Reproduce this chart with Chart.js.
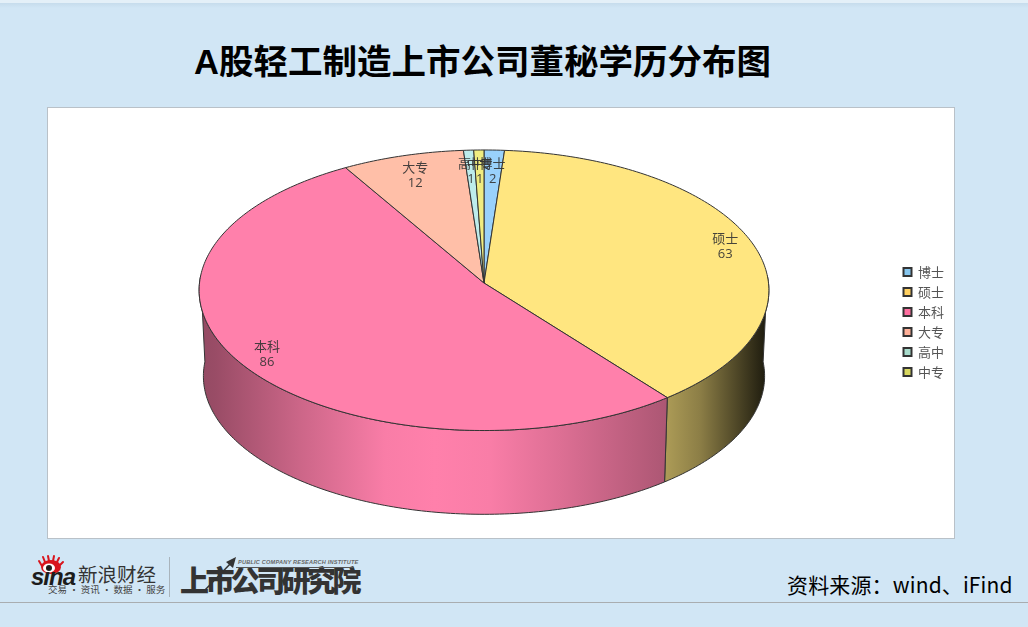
<!DOCTYPE html>
<html>
<head>
<meta charset="utf-8">
<script src="https://cdn.jsdelivr.net/npm/chart.js@4"></script>
<style>
  html, body { margin: 0; padding: 0; }
  body { width: 1028px; height: 627px; position: relative; overflow: hidden; background: #d1e6f5; font-family: "Noto Sans CJK SC", sans-serif; }
  .abs { position: absolute; white-space: nowrap; line-height: 1; }
  #strip { left: 0; top: 3px; width: 1028px; height: 5px; background: linear-gradient(#c6dcec, #d1e6f5); }
  #strip0 { left: 0; top: 0; width: 1028px; height: 3px; background: #e4f0f8; }
  #title { left: 194px; top: 34px; font: bold 34.5px "Liberation Sans", "Noto Sans CJK SC", sans-serif; color: #000; }
  #panel { left: 47px; top: 107px; width: 906px; height: 430px; background: #fff; border: 1px solid #b9c1c8; }
  #chartBox { left: 48px; top: 108px; }
  #source { left: 787px; top: 574px; font-size: 21px; letter-spacing: .15px; color: #000; }
  #rule { left: 0; top: 602px; width: 1028px; height: 1px; background: #a9adb0; }
  #vrule { left: 169px; top: 557px; width: 1px; height: 40px; background: #a9b4bc; }
  #sina { left: 31px; top: 563px; font: italic bold 24px "Liberation Sans", sans-serif; color: #1c1c1c; letter-spacing: -1px; }
  #xl { left: 78px; top: 564px; font-size: 19.5px; color: #333; }
  #xl2 { left: 48px; top: 585px; font-size: 9.5px; color: #444; }
  #ssgs { left: 180px; top: 565px; font-size: 29px; font-weight: 900; color: #333; letter-spacing: -3.6px; }
  #pub { left: 238px; top: 559px; font: italic bold 5.6px "Liberation Sans", sans-serif; color: #666; letter-spacing: .2px; }
  #pubLine { left: 236px; top: 567px; width: 118px; height: 1px; background: #555; }
</style>
</head>
<body>
<div class="abs" id="strip0"></div>
<div class="abs" id="strip"></div>
<div class="abs" id="title">A股轻工制造上市公司董秘学历分布图</div>
<div class="abs" id="panel"></div>
<div class="abs" id="chartBox"><canvas id="myChart" width="910" height="428"></canvas></div>
<svg class="abs" style="left:36px;top:554px" width="30" height="22" viewBox="0 0 30 22">
  <g stroke="#d8141c" stroke-width="2" stroke-linecap="round">
    <path d="M6 12 L3 7M9 8 L7 3M13 7 L12 2M17 7 L18 2M21 8 L23 4M24 11 L27 8"/>
  </g>
  <ellipse cx="15" cy="13" rx="10" ry="7" fill="#d8141c"/>
  <ellipse cx="13" cy="14" rx="6" ry="4.5" fill="#fff"/>
  <circle cx="13" cy="14" r="3" fill="#222"/>
</svg>
<div class="abs" id="sina">sina</div>
<div class="abs" id="xl">新浪财经</div>
<div class="abs" id="xl2">交易 · 资讯 · 数据 · 服务</div>
<div class="abs" id="vrule"></div>
<div class="abs" id="ssgs">上市公司研究院</div>
<svg class="abs" style="left:200px;top:555px" width="40" height="40" viewBox="0 0 40 40">
  <path d="M5 35 L32 7" stroke="#333" stroke-width="1.5"/>
  <path d="M36 2 L26 7 L33 13 Z" fill="#333"/>
</svg>
<div class="abs" id="pub">PUBLIC COMPANY RESEARCH INSTITUTE</div>
<div class="abs" id="pubLine"></div>
<div class="abs" id="source">资料来源：wind、iFind</div>
<div class="abs" id="rule"></div>

<script>
const categories = ["博士", "硕士", "本科", "大专", "高中", "中专"];
const values = [2, 63, 86, 12, 1, 1];
const sliceColors = ["#99d1fb", "#ffe680", "#ff80ab", "#ffbfa8", "#bdecec", "#f0ec80"];
const legendColors = ["#86c6ee", "#ffd060", "#ff6fa0", "#ffb098", "#a8dccc", "#d8d860"];

// look of the tilted disc, in canvas pixels
const cx = 436, apexY = 175;
const rimX = 284.5, rimY = 139.9, persp = 0.0517;
const depth = 86, lowScale = 0.985;
const sideLight = [[199, .58], [215, .6], [300, .8], [385, .98], [435, 1], [490, .98], [560, .87], [665, .68], [700, .55], [769, .1]];

function project(a, r, low) {
  // a is the chart.js arc angle, 3 o'clock = 0
  const X = Math.cos(a) * r, Y = -Math.sin(a) * r;
  const w = 1 + persp * Y;
  const x = rimX * X / w, y = -rimY * Y / w;
  if (!low) return [cx + x, apexY + y];
  return [cx + x * lowScale, apexY + y * lowScale + depth];
}

function shadeColor(hex, s) {
  const n = parseInt(hex.slice(1), 16);
  return `rgb(${(n >> 16) * s | 0},${((n >> 8) & 255) * s | 0},${(n & 255) * s | 0})`;
}

function sideFill(ctx, color) {
  const g = ctx.createLinearGradient(199 - 48, 0, 769 - 48, 0);
  sideLight.forEach(p => g.addColorStop((p[0] - 199) / 570, shadeColor(color, p[1])));
  return g;
}

function rimPoints(a0, a1, low) {
  const n = Math.max(2, Math.ceil((a1 - a0) * 60)), pts = [];
  for (let i = 0; i <= n; i++) pts.push(project(a0 + (a1 - a0) * i / n, 1, low));
  return pts;
}

// arcs keep their angles from the pie controller, only the way they are painted changes
Chart.ArcElement.prototype.draw = function (ctx) {
  const color = this.options.backgroundColor;
  const a0 = this.startAngle, a1 = this.endAngle;
  ctx.save();
  ctx.lineWidth = 1;
  ctx.strokeStyle = "#333";
  ctx.lineJoin = "round";

  // visible front of the wall
  const f0 = Math.max(a0, -0.052), f1 = Math.min(a1, Math.PI + 0.052);
  if (f1 > f0) {
    const top = rimPoints(f0, f1, false), low = rimPoints(f0, f1, true).reverse();
    ctx.beginPath();
    top.concat(low).forEach((p, i) => i ? ctx.lineTo(p[0], p[1]) : ctx.moveTo(p[0], p[1]));
    ctx.closePath();
    ctx.fillStyle = sideFill(ctx, color);
    ctx.fill();
    ctx.stroke();
  }

  const c = project(0, 0, false);
  ctx.beginPath();
  ctx.moveTo(c[0], c[1]);
  rimPoints(a0, a1, false).forEach(p => ctx.lineTo(p[0], p[1]));
  ctx.closePath();
  ctx.fillStyle = color;
  ctx.fill();
  ctx.stroke();
  ctx.restore();
};

const sliceLabels = {
  id: "sliceLabels",
  afterDatasetsDraw(chart) {
    const ctx = chart.ctx;
    ctx.save();
    ctx.font = '13px "Open Sans", "Noto Sans CJK SC", sans-serif';
    ctx.fillStyle = "rgba(50,50,50,.9)";
    ctx.textAlign = "center";
    ctx.textBaseline = "middle";
    chart.getDatasetMeta(0).data.forEach((el, i) => {
      const mid = (el.startAngle + el.endAngle) / 2;
      // labels near the top sit further in
      const up = Math.max(0, -Math.sin(mid));
      const p = project(mid, .9 - .07 * up * up * up, false);
      const y = p[1] + (up > 0 ? 0 : -1);
      ctx.fillText(categories[i], p[0], y - 7.5);
      ctx.fillText(String(values[i]), p[0], y + 7.5);
    });
    ctx.restore();
  }
};

let config = {
  type: "pie",
  data: {
    labels: categories,
    datasets: [{
      data: values,
      backgroundColor: sliceColors,
      borderWidth: 0,
    }],
  },
  options: {
    responsive: false,
    animation: false,
    events: [],
    layout: { padding: { right: 4 } },
    plugins: {
      tooltip: { enabled: false },
      legend: {
        position: "right",
        labels: {
          boxWidth: 8,
          boxHeight: 8,
          padding: 7,
          color: "#555",
          font: { family: '"Noto Sans CJK SC", sans-serif', size: 13 },
          generateLabels() {
            return categories.map((c, i) => ({
              text: c,
              fillStyle: legendColors[i],
              strokeStyle: "#333",
              lineWidth: 2,
              fontColor: "#555",
              index: i,
            }));
          }
        }
      }
    }
  },
  plugins: [sliceLabels],
};

const ctx = document.getElementById("myChart").getContext("2d");
const myChart = new Chart(ctx, config);
</script>
</body>
</html>
